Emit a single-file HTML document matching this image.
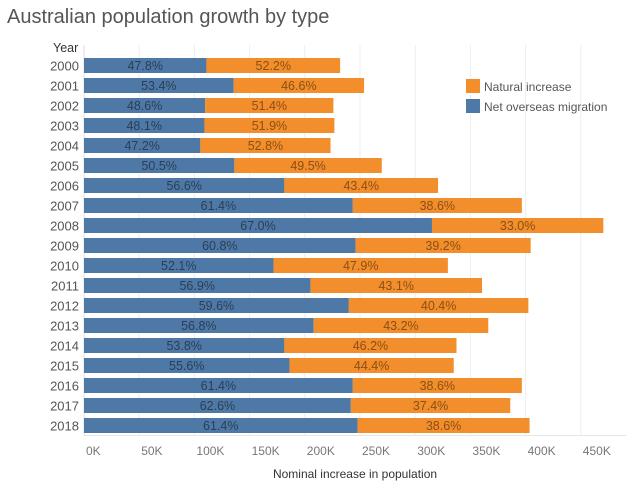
<!DOCTYPE html>
<html><head><meta charset="utf-8"><style>
body{margin:0;background:#fff;width:626px;height:490px;overflow:hidden;font-family:"Liberation Sans",sans-serif}
</style></head><body>
<svg width="626" height="490" xmlns="http://www.w3.org/2000/svg">
<text x="7" y="23" font-size="20" fill="#555">Australian population growth by type</text>
<text x="53" y="52" font-size="12.5" fill="#333">Year</text>
<g id="grid"></g><g id="bars"></g><g id="ticks"></g>
<text x="355" y="478" font-size="12" fill="#333" text-anchor="middle">Nominal increase in population</text>
<g>
<rect x="466" y="79" width="14" height="14" fill="#f28e2b"/>
<text x="484" y="91" font-size="12" fill="#555">Natural increase</text>
<rect x="466" y="99" width="14" height="14" fill="#4e79a7"/>
<text x="484" y="111" font-size="12" fill="#555">Net overseas migration</text>
</g>
</svg>
<script>
const years=[2000,2001,2002,2003,2004,2005,2006,2007,2008,2009,2010,2011,2012,2013,2014,2015,2016,2017,2018];
const migration=[110.9,135.5,109.8,109.1,105.4,136.2,181.5,243.5,315.2,246.0,171.7,205.1,239.9,208.0,181.5,186.2,243.5,241.7,247.8];
const natural=[121.1,118.2,116.1,117.7,117.9,133.5,139.2,153.1,155.2,158.6,157.9,155.4,162.6,158.2,155.9,148.7,153.1,144.4,155.8];
const xTicks=[0,50,100,150,200,250,300,350,400,450];
const ns="http://www.w3.org/2000/svg";
const x0=84,k=1.104;
const X=v=>x0+v*k;
const Y=i=>58+i*20;
function mk(t,a,p){const e=document.createElementNS(ns,t);for(const n in a)e.setAttribute(n,a[n]);p.appendChild(e);return e;}
const grid=document.getElementById('grid'),bars=document.getElementById('bars'),ticks=document.getElementById('ticks');
xTicks.forEach(t=>{
 const l=mk('line',{x1:X(t),x2:X(t),y1:45,y2:435,stroke:t===0?'#ddd':'#eee','stroke-width':1},grid);
 
 
 const tx=mk('text',{x:X(t)+2,y:455,'font-size':12,fill:'#777'},ticks);
 tx.textContent=t+'K';
 
 
});
const ax=mk('line',{x1:84,x2:626,y1:435.5,y2:435.5,stroke:'#e6e6e6'},grid);


years.forEach((yr,i)=>{
 const m=migration[i],n=natural[i],tot=m+n,y=Y(i);
 const yl=mk('text',{x:79,y:y+12.5,'font-size':13,fill:'#555','text-anchor':'end'},ticks);
 yl.textContent=yr;
 
 
 const b=mk('rect',{x:X(0),y:y,width:X(m)-X(0),height:15,fill:'#4e79a7'},bars);
 
 
 const o=mk('rect',{x:X(m),y:y,width:X(tot)-X(m),height:15,fill:'#f28e2b'},bars);
 
 
 const t1=mk('text',{x:(X(0)+X(m))/2,y:y+12,'font-size':12.5,fill:'#2b3e55','text-anchor':'middle'},bars);
 t1.textContent=(m/tot*100).toFixed(1)+'%';
 
 
 const t2=mk('text',{x:(X(m)+X(tot))/2,y:y+12,'font-size':12.5,fill:'#8c4f16','text-anchor':'middle'},bars);
 t2.textContent=(n/tot*100).toFixed(1)+'%';
 
 
});
</script>
</body></html>
